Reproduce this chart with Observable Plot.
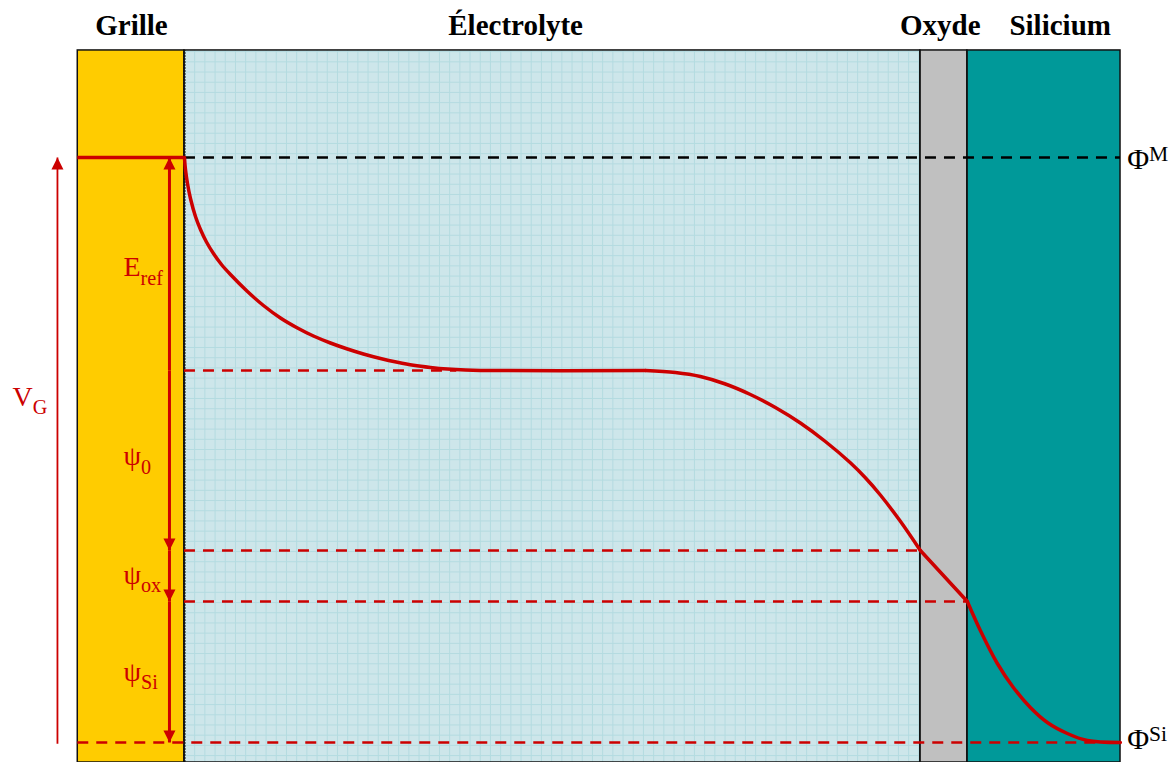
<!DOCTYPE html>
<html><head><meta charset="utf-8">
<script src="https://cdn.jsdelivr.net/npm/d3@7"></script>
<script src="https://cdn.jsdelivr.net/npm/@observablehq/plot@0.6"></script>
<style>body{margin:0;background:#fff}</style>
</head><body><div id="chart"></div>
<script>
// ---- Data (x: position along the stack, arbitrary units; E: energy, units of V_G) ----
const layerNames = ["Grille", "Électrolyte", "Oxyde", "Silicium"];
const layerStart = [-14.5, 0, 100, 106.39];
const layerEnd   = [0, 100, 106.39, 127.2];
const titleAt    = [-7.2, 45.0, 102.7, 119.0];
const panelTopE  = 1.183;
const titleE     = 1.2256;

const levelNames = ["ΦM", "Eref", "ψ0", "ψox", "ΦSi"];
const levelE     = [1.0, 0.6359, 0.32821, 0.24103, 0.0];
const dashEnd    = [127.2, 37.0, 100, 106.39, 127.2];
const dashStart  = [0, 0, 0, 0, -14.5];

// potential profile, segment by segment (Grille → Silicium)
const decayX = [0.000,0.136,0.408,0.815,1.495,2.174,2.989,3.940,5.027,6.250,8.560,10.734,13.043,15.353,17.527,19.837,22.147,24.321,26.630,28.940,31.114,33.424,35.734,38.179,40.217,62.636];
const decayE = [1.00000,0.97949,0.95556,0.92991,0.89915,0.87692,0.85556,0.83590,0.81709,0.80000,0.77094,0.74701,0.72564,0.70855,0.69487,0.68291,0.67265,0.66410,0.65641,0.64991,0.64479,0.64103,0.63829,0.63658,0.63590,0.63590];
const riseX  = [62.636,66.712,70.109,73.505,76.902,80.299,83.696,87.092,90.489,92.527,94.565,97.283,100.000];
const riseE  = [0.63590,0.63248,0.62564,0.61282,0.59487,0.57265,0.54615,0.51453,0.47812,0.45248,0.42308,0.37812,0.32821];
const oxideX = [100.000,106.386];
const oxideE = [0.32821,0.24103];
const siX    = [106.386,108.152,110.462,112.636,114.946,117.255,119.973,122.690,127.174];
const siE    = [0.24103,0.19145,0.13504,0.09402,0.05983,0.03419,0.01538,0.00342,0.00000];

// potential drops shown as arrows (from level → to level)
const dropNames = ["E_ref", "ψ_0", "ψ_ox", "ψ_Si"];
const dropFrom  = [0.6359, 0.6359, 0.32821, 0.24103];
const dropTo    = [1.0, 0.32821, 0.24103, 0.0];
const dropE     = [0.812, 0.489, 0.287, 0.121];
const dropAxisX = -2.04;
const vgAxisX   = -17.26;
const labelX    = -8.29;
const vgLabel   = {t: "V_G", x: -23.37, E: 0.591};
const phiLabels = [{t: "Φ^M", x: 128.1, E: 0.997}, {t: "Φ^Si", x: 128.1, E: 0.005}];

// ---- Styles ----
const RED = "#cc0000";
const layerColors = ["#ffcc00", "#cde6ea", "#c0c0c0", "#009999"];
const SERIF = "Liberation Serif, Times New Roman, serif";
const bottomE = -0.0342;

// ---- Tables ----
const layers = layerNames.map((name, i) => ({name, x1: layerStart[i], x2: layerEnd[i], y1: bottomE, y2: panelTopE, tx: titleAt[i]}));
const dashes = levelNames.map((name, i) => ({name, E: levelE[i], from: dashStart[i], to: dashEnd[i]}));
const seg = (name, xs, es) => xs.map((x, i) => ({x, E: es[i], seg: name}));
const curve = [...seg("decay", decayX, decayE), ...seg("rise", riseX, riseE), ...seg("oxide", oxideX, oxideE), ...seg("si", siX, siE)];
const drops = dropNames.map((t, i) => ({t, from: dropFrom[i], to: dropTo[i], E: dropE[i], x: labelX, ax: dropAxisX, up: dropTo[i] > dropFrom[i]}));

// electrolyte grid (decoration)
const gridX = d3.range(0, 100, 1.386);
const gridY = d3.range(0.745 - 0.01744 * 44, panelTopE, 0.01744).filter(e => e > bottomE);

const headUp = {draw(ctx) { ctx.moveTo(0, 0); ctx.lineTo(6, 12); ctx.lineTo(-6, 12); ctx.closePath(); }};
const headDown = {draw(ctx) { ctx.moveTo(0, 0); ctx.lineTo(6, -12); ctx.lineTo(-6, -12); ctx.closePath(); }};

const chart = Plot.plot({
  width: 1173, height: 762, margin: 0,
  x: {domain: [-25, 134.4], range: [0, 1173], axis: null},
  y: {domain: [bottomE, 1.2684], range: [762, 0], axis: null},
  color: {domain: layerNames, range: layerColors},
  style: {background: "white", overflow: "hidden"},
  marks: [
    Plot.rect(layers, {x1: "x1", x2: "x2", y1: "y1", y2: "y2", fill: "name"}),
    Plot.ruleX(gridX, {y1: bottomE, y2: panelTopE, stroke: "#b4dbe0", strokeWidth: 1}),
    Plot.ruleY(gridY, {x1: 0, x2: 100, stroke: "#b4dbe0", strokeWidth: 1}),
    Plot.ruleX([0], {y1: bottomE, y2: panelTopE, stroke: "#4d5b5b", strokeWidth: 2.5, strokeDasharray: "2,1"}),
    Plot.rect(layers, {x1: "x1", x2: "x2", y1: "y1", y2: "y2", fill: "none", stroke: "#111", strokeWidth: 1.5}),
    // Fermi level of the gate
    Plot.ruleY([levelE[0]], {x1: layerStart[0], x2: 0, stroke: RED, strokeWidth: 3.5}),
    // dashed reference levels
    Plot.ruleY(dashes.filter(d => d.name === "ΦM"), {y: "E", x1: "from", x2: "to", stroke: "black", strokeWidth: 2.5, strokeDasharray: "11,8"}),
    Plot.ruleY(dashes.filter(d => d.name !== "ΦM"), {y: "E", x1: "from", x2: "to", stroke: RED, strokeWidth: 2.5, strokeDasharray: "11,8"}),
    // potential profile
    Plot.line(curve, {x: "x", y: "E", z: "seg", curve: "catmull-rom", stroke: RED, strokeWidth: 3.5}),
    // V_G arrow
    Plot.link([{y1: levelE[4] - 0.002, y2: levelE[0]}], {x1: vgAxisX, x2: vgAxisX, y1: "y1", y2: "y2", stroke: RED, strokeWidth: 1.8}),
    Plot.dot([{E: levelE[0]}], {x: vgAxisX, y: "E", symbol: headUp, fill: RED, stroke: "none"}),
    // drop arrows
    Plot.link(drops, {x1: "ax", x2: "ax", y1: "from", y2: "to", stroke: RED, strokeWidth: 3}),
    Plot.dot(drops.filter(d => d.up), {x: "ax", y: "to", symbol: headUp, fill: RED, stroke: "none"}),
    Plot.dot(drops.filter(d => !d.up), {x: "ax", y: "to", symbol: headDown, fill: RED, stroke: "none"}),
    // labels
    Plot.text(layers, {x: "tx", y: titleE, text: "name", fontFamily: SERIF, fontWeight: "bold", fontSize: 29, fill: "black"}),
    Plot.text(drops, {x: "x", y: "E", text: "t", textAnchor: "start", fontFamily: SERIF, fontSize: 28, fill: RED}),
    Plot.text([vgLabel], {x: "x", y: "E", text: "t", textAnchor: "start", fontFamily: SERIF, fontSize: 28, fill: RED}),
    Plot.text(phiLabels, {x: "x", y: "E", text: "t", textAnchor: "start", fontFamily: SERIF, fontSize: 30, fill: "black"})
  ]
});

// turn "a_b" / "a^b" into real sub/superscript tspans
const NS = "http://www.w3.org/2000/svg";
chart.querySelectorAll("text").forEach(t => {
  const m = t.textContent.match(/^(.+?)([_^])(.+)$/);
  if (!m) return;
  t.textContent = "";
  const a = document.createElementNS(NS, "tspan");
  a.textContent = m[1];
  const b = document.createElementNS(NS, "tspan");
  b.textContent = m[3];
  b.setAttribute("font-size", "0.72em");
  b.setAttribute("dy", m[2] === "_" ? "0.42em" : "-0.38em");
  t.appendChild(a); t.appendChild(b);
});
document.getElementById("chart").appendChild(chart);
</script>
</body></html>
